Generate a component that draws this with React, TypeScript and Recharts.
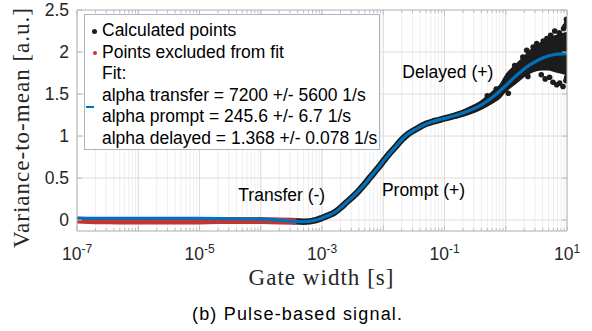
import React from 'react';
import { ComposedChart, Line, Area, Scatter, XAxis, YAxis, CartesianGrid, ReferenceDot } from 'recharts';

// fitted model, gate width [s] -> variance-to-mean
const fitGate = [1e-7, 1e-6, 1e-5, 3.2e-5, 1e-4, 2e-4, 3.2e-4, 5e-4, 8e-4, 1e-3, 1.26e-3, 1.6e-3, 2e-3, 2.5e-3, 3.2e-3, 4e-3, 5e-3, 6.3e-3, 8e-3, 1e-2, 1.26e-2, 1.6e-2, 2e-2, 2.5e-2, 3.2e-2, 4e-2, 6.3e-2, 0.1, 0.16, 0.25, 0.4, 0.63, 1, 1.6, 2.5, 4, 6.3, 10];
const fitValue = [0.02, 0.02, 0.02, 0.016, 0.012, 0.0, -0.012, -0.02, 0.0, 0.025, 0.055, 0.09, 0.145, 0.21, 0.28, 0.35, 0.43, 0.52, 0.61, 0.7, 0.79, 0.875, 0.955, 1.02, 1.07, 1.11, 1.17, 1.21, 1.25, 1.3, 1.37, 1.47, 1.6, 1.74, 1.85, 1.93, 1.97, 1.98];

// calculated points (dense part)
const calcGate = [3.4e-4, 5e-4, 8e-4, 1e-3, 1.26e-3, 1.6e-3, 2e-3, 2.5e-3, 3.2e-3, 4e-3, 5e-3, 6.3e-3, 8e-3, 1e-2, 1.26e-2, 1.6e-2, 2e-2, 2.5e-2, 3.2e-2, 4e-2, 5e-2, 6.3e-2, 8e-2, 0.1, 0.13, 0.16, 0.2, 0.25, 0.32, 0.4, 0.5, 0.63, 0.8, 1, 1.26, 1.6, 2, 2.5, 3.2, 4, 5, 6.3, 8, 10];
const calcValue = [-0.015, -0.02, 0.0, 0.025, 0.055, 0.09, 0.145, 0.21, 0.28, 0.35, 0.43, 0.52, 0.61, 0.7, 0.79, 0.875, 0.955, 1.02, 1.07, 1.11, 1.145, 1.17, 1.19, 1.21, 1.23, 1.25, 1.27, 1.3, 1.335, 1.37, 1.42, 1.47, 1.53, 1.6, 1.67, 1.74, 1.8, 1.85, 1.89, 1.93, 1.95, 1.97, 1.98, 1.98];

// spread of calculated points at long gate widths
const spreadGate = [6.3e-2, 0.1, 0.16, 0.25, 0.4, 0.63, 0.8, 1, 1.26, 1.6, 2, 2.5, 3.2, 4, 5, 6.3, 8, 10];
const spreadLow = [1.15, 1.18, 1.21, 1.25, 1.31, 1.39, 1.44, 1.52, 1.58, 1.64, 1.7, 1.74, 1.77, 1.78, 1.78, 1.76, 1.74, 1.72];
const spreadHigh = [1.19, 1.24, 1.29, 1.35, 1.43, 1.55, 1.62, 1.74, 1.82, 1.89, 1.96, 2.03, 2.08, 2.14, 2.18, 2.2, 2.22, 2.24];

// scattered calculated points
const outGate = [0.5, 0.7, 1.1, 1.4, 1.9, 2.2, 2.3, 2.8, 3.2, 3.8, 4.1, 4.4, 4.7, 5.2, 5.4, 5.9, 6.3, 6.8, 7.5, 7.6, 8.6, 8.8, 9.3, 9.6, 9.8, 9.9, 9.9];
const outValue = [1.48, 1.56, 1.51, 1.84, 1.94, 2.02, 1.71, 2.06, 2.1, 1.73, 2.13, 1.68, 2.16, 1.7, 2.2, 1.64, 2.25, 1.61, 2.23, 1.63, 1.59, 2.28, 2.31, 1.66, 2.39, 2.35, 1.7];

// points excluded from fit
const exclGate = [1e-7, 2e-7, 5e-7, 1e-6, 2e-6, 5e-6, 1e-5, 2e-5, 5e-5, 1e-4, 2e-4, 3.4e-4];
const exclValue = [0.0, -0.008, -0.01, -0.012, -0.012, -0.012, -0.01, -0.006, -0.004, -0.006, -0.01, -0.015];

const decades = [1e-7, 1e-6, 1e-5, 1e-4, 1e-3, 1e-2, 1e-1, 1, 10];
const mantissas = [1, 2, 3, 4, 5, 6, 7, 8, 9];
const xTicks = [...decades.slice(0, -1).flatMap((d) => mantissas.map((m) => m * d)), 10];
const xLabelTicks = [1e-7, 1e-5, 1e-3, 1e-1, 10];
const xLabelExponents = ['-7', '-5', '-3', '-1', '1'];
const yTicks = [0, 0.5, 1, 1.5, 2, 2.5];
const yTickLabels = ['0', '0.5', '1', '1.5', '2', '2.5'];

const fitData = fitGate.map((gw, i) => ({ gw, v: fitValue[i] }));
const calcData = calcGate.map((gw, i) => ({ gw, v: calcValue[i] }));
const spreadData = spreadGate.map((gw, i) => ({ gw, v: [spreadLow[i], spreadHigh[i]] }));
const outData = outGate.map((gw, i) => ({ gw, v: outValue[i] }));
const exclData = exclGate.map((gw, i) => ({ gw, v: exclValue[i] }));

const SANS = "'Liberation Sans', Arial, Helvetica, sans-serif";
const SERIF = "'Liberation Serif', 'Times New Roman', serif";
const TEXT = '#262626';
const AXIS = '#bcbcbc';
const BLUE = '#0072bd';
const RED = '#c4352f';
const BLACK = '#1c1c1c';

const near = (a: number, b: number) => Math.abs(Math.log10(a) - Math.log10(b)) < 1e-6;
const isDecade = (v: number) => decades.some((d) => near(v, d));

const BottomTick = (props: any) => {
  const { x, y, payload } = props;
  const idx = xLabelTicks.findIndex((t) => near(t, payload.value));
  const len = isDecade(payload.value) ? 5 : 3;
  return (
    <g>
      <line x1={x} x2={x} y1={y} y2={y - len} stroke={AXIS} />
      {idx >= 0 && (
        <text x={x} y={y + 29} textAnchor="middle" fontFamily={SANS} fontSize={17.5} fill={TEXT}>
          <tspan>10</tspan>
          <tspan dy={-7} fontSize={12}>{xLabelExponents[idx]}</tspan>
        </text>
      )}
    </g>
  );
};

const TopTick = (props: any) => {
  const { x, y, payload } = props;
  const len = isDecade(payload.value) ? 5 : 3;
  return <line x1={x} x2={x} y1={y} y2={y + len} stroke={AXIS} />;
};

const LeftTick = (props: any) => {
  const { x, y, payload } = props;
  const idx = yTicks.indexOf(payload.value);
  return (
    <g>
      <line x1={x} x2={x + 5} y1={y} y2={y} stroke={AXIS} />
      <text x={x - 8} y={y} dy="0.36em" textAnchor="end" fontFamily={SANS} fontSize={17.5} fill={TEXT}>
        {yTickLabels[idx]}
      </text>
    </g>
  );
};

const RightTick = (props: any) => {
  const { x, y } = props;
  return <line x1={x} x2={x - 5} y1={y} y2={y} stroke={AXIS} />;
};

const annotation = (text: string) => ({
  value: text,
  position: 'right' as const,
  offset: 0,
  fill: '#000',
  fontSize: 17.5,
  fontFamily: SANS,
});

const legendRows = [
  'Calculated points',
  'Points excluded from fit',
  'Fit:',
  'alpha transfer = 7200 +/- 5600 1/s',
  'alpha prompt = 245.6 +/- 6.7 1/s',
  'alpha delayed = 1.368 +/- 0.078 1/s',
];

const Legend = () => (
  <div
    style={{
      position: 'absolute',
      left: 84,
      top: 14,
      width: 294,
      height: 134,
      background: '#fff',
      border: '1px solid #a3b6cb',
      fontFamily: SANS,
      fontSize: 17.5,
      color: '#000',
    }}
  >
    <div style={{ position: 'absolute', left: 7, top: 13.5, width: 5, height: 5, borderRadius: 3, background: BLACK }} />
    <div style={{ position: 'absolute', left: 7.5, top: 35.5, width: 4, height: 4, borderRadius: 2, background: RED }} />
    <div style={{ position: 'absolute', left: 1, top: 90.5, width: 8, height: 2.5, background: BLUE }} />
    <div style={{ position: 'absolute', left: 17, top: 5, lineHeight: '21.5px', whiteSpace: 'nowrap' }}>
      {legendRows.map((r) => (
        <div key={r}>{r}</div>
      ))}
    </div>
  </div>
);

const logAxis = {
  dataKey: 'gw',
  type: 'number' as const,
  scale: 'log' as const,
  domain: [1e-7, 10],
  allowDataOverflow: true,
  interval: 0,
  tickSize: 0,
  tickMargin: 0,
  tickLine: false,
};

const App: React.FC = () => {
  return (
    <div style={{ position: 'absolute', left: 0, top: 0, width: 592, height: 331, background: '#fff' }}>
      <ComposedChart width={592} height={331} margin={{ top: 9, right: 24, bottom: 70, left: 0 }}>
        <CartesianGrid stroke="#eeeeee" horizontal={false} />
        <CartesianGrid stroke="#dddddd" xAxisId="major" />
        <XAxis {...logAxis} ticks={xTicks} height={30} axisLine={{ stroke: AXIS }} tick={<BottomTick />} />
        <XAxis {...logAxis} xAxisId="major" ticks={decades} hide />
        <XAxis
          {...logAxis}
          xAxisId="top"
          orientation="top"
          ticks={xTicks}
          height={1}
          axisLine={{ stroke: AXIS }}
          tick={<TopTick />}
        />
        <YAxis
          dataKey="v"
          type="number"
          domain={[-0.13, 2.5]}
          allowDataOverflow
          ticks={yTicks}
          interval={0}
          width={77}
          tickSize={0}
          tickMargin={0}
          tickLine={false}
          axisLine={{ stroke: AXIS }}
          tick={<LeftTick />}
        />
        <YAxis
          yAxisId="right"
          orientation="right"
          dataKey="v"
          type="number"
          domain={[-0.13, 2.5]}
          allowDataOverflow
          ticks={yTicks}
          interval={0}
          width={1}
          tickSize={0}
          tickMargin={0}
          tickLine={false}
          axisLine={{ stroke: AXIS }}
          tick={<RightTick />}
        />
        <Area
          data={spreadData}
          dataKey="v"
          type="monotone"
          fill={BLACK}
          fillOpacity={1}
          stroke="none"
          zIndex={100}
          isAnimationActive={false}
        />
        <Scatter
          data={outData}
          dataKey="v"
          zIndex={110}
          isAnimationActive={false}
          shape={(p: any) => <circle cx={p.cx} cy={p.cy} r={2.8} fill={BLACK} />}
        />
        <Line
          data={calcData}
          dataKey="v"
          type="monotone"
          stroke={BLACK}
          strokeWidth={6.5}
          dot={false}
          zIndex={120}
          isAnimationActive={false}
        />
        <Line
          data={exclData}
          dataKey="v"
          type="monotone"
          stroke={RED}
          strokeWidth={7}
          strokeLinecap="round"
          dot={false}
          zIndex={130}
          isAnimationActive={false}
        />
        <Line
          data={fitData}
          dataKey="v"
          type="monotone"
          stroke={BLUE}
          strokeWidth={3.2}
          dot={false}
          zIndex={450}
          isAnimationActive={false}
        />
        <ReferenceDot x={4.3e-5} y={0.3} r={0} fill="none" stroke="none" label={annotation('Transfer (-)')} />
        <ReferenceDot x={9.5e-3} y={0.36} r={0} fill="none" stroke="none" label={annotation('Prompt (+)')} />
        <ReferenceDot x={2.05e-2} y={1.77} r={0} fill="none" stroke="none" label={annotation('Delayed (+)')} />
      </ComposedChart>
      <Legend />
      <svg width={592} height={331} style={{ position: 'absolute', left: 0, top: 0, pointerEvents: 'none' }}>
        <text x={321} y={285} textAnchor="middle" fontFamily={SERIF} fontSize={23} fill={TEXT} textLength={145}>
          Gate width [s]
        </text>
        <text
          transform="translate(29 128) rotate(-90)"
          textAnchor="middle"
          fontFamily={SERIF}
          fontSize={23}
          fill={TEXT}
          textLength={240}
        >
          Variance-to-mean [a.u.]
        </text>
        <text x={297} y={320} textAnchor="middle" fontFamily={SANS} fontSize={18} fill="#000" textLength={210}>
          (b) Pulse-based signal.
        </text>
      </svg>
    </div>
  );
};

export default App;
